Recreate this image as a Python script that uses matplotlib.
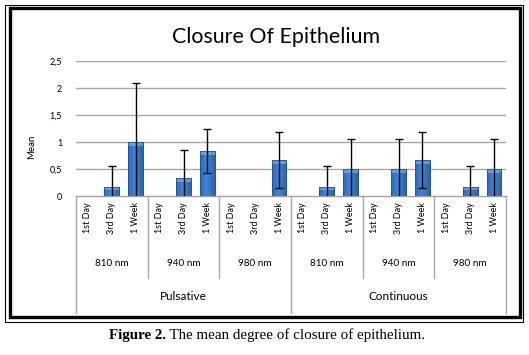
import numpy as np
import matplotlib
matplotlib.use("Agg")
import matplotlib.pyplot as plt
from matplotlib.patches import Rectangle
from matplotlib.lines import Line2D

# ---- data ----
title = "Closure Of Epithelium"
ylabel = "Mean"
days = ["1st Day", "3rd Day", "1 Week"]
wavelengths = ["810 nm", "940 nm", "980 nm"]
modes = ["Pulsative", "Continuous"]
pulsative_means = [0, 0.17, 1.0, 0, 0.33, 0.83, 0, 0, 0.67]
pulsative_err = [0, 0.39, 1.1, 0, 0.52, 0.41, 0, 0, 0.52]
continuous_means = [0, 0.17, 0.5, 0, 0.5, 0.67, 0, 0.17, 0.5]
continuous_err = [0, 0.39, 0.55, 0, 0.55, 0.52, 0, 0.39, 0.55]
yticks = [0, 0.5, 1, 1.5, 2, 2.5]
yticklabels = ["0", "0,5", "1", "1,5", "2", "2,5"]
caption_bold = "Figure 2."
caption_rest = " The mean degree of closure of epithelium."

W, H = 529, 355
fig = plt.figure(figsize=(W / 100, H / 100), dpi=100)
FONT = "Lato"

def fx(px):
    return px / W

def fy(py):
    return 1 - py / H

# axes placement (pixel coords)
x0, x1 = 76, 506
y0, y1 = 196, 61
ax = fig.add_axes([fx(x0), fy(y0), fx(x1) - fx(x0), fy(y1) - fy(y0)])

means = np.array(pulsative_means + continuous_means)
errs = np.array(pulsative_err + continuous_err)
n = len(means)
xs = np.arange(n)

ax.set_xlim(-0.5, n - 0.5)
ax.set_ylim(0, 2.5)
for yv in yticks[1:]:
    ax.axhline(yv, color="#a8a8a8", lw=1.0, zorder=0)

bw = 0.62
bars = ax.bar(xs, means, width=bw, color="#3c7ac6", edgecolor="#24548f",
              linewidth=0.6, zorder=2)
# glossy gradient overlay
grad = np.linspace(0, 1, 64)
shade = 1 - 0.55 * np.abs(grad - 0.45) * 2
img = np.zeros((2, 64, 4))
for i in range(64):
    c = np.array([0.22, 0.47, 0.78]) * (0.65 + 0.45 * shade[i])
    img[:, i, :3] = np.clip(c, 0, 1)
    img[:, i, 3] = 1
for b, m in zip(bars, means):
    if m <= 0:
        continue
    x, w = b.get_x(), b.get_width()
    im = ax.imshow(img, extent=[x, x + w, 0, m], aspect="auto", zorder=2.5,
                   interpolation="bilinear")
    im.set_clip_path(b)
    cap = min(0.07, m * 0.4)
    ax.add_patch(Rectangle((x, m - cap), w, cap, facecolor="#8fbcec",
                           edgecolor="none", alpha=0.55, zorder=2.6))
    ax.add_patch(Rectangle((x, 0), w, m, facecolor="none",
                           edgecolor="#24548f", lw=0.6, zorder=2.7))

mask = errs > 0
ax.errorbar(xs[mask], means[mask], yerr=errs[mask], fmt="none", ecolor="black",
            elinewidth=1.0, capsize=3, capthick=1.0, zorder=3)

ax.set_yticks(yticks)
ax.set_yticklabels(yticklabels, fontsize=6.5, family=FONT)
ax.tick_params(axis="y", length=0, pad=10)
ax.set_xticks([])
for s in ["top", "right", "left"]:
    ax.spines[s].set_visible(False)
ax.spines["bottom"].set_color("#a0a0a0")
ax.spines["bottom"].set_linewidth(1.0)
ax.patch.set_alpha(0)

# category table lines
lc = "#a8a8a8"
gw = (x1 - x0) / 6
def vline(xp, ya, yb):
    fig.add_artist(Line2D([fx(xp), fx(xp)], [fy(ya), fy(yb)], color=lc, lw=1.0))
vline(x0, y0, 313)
vline(x1, y0, 313)
vline(x0 + 3 * gw, y0, 313)
for k in [1, 2, 4, 5]:
    vline(x0 + k * gw, y0, 278)

cw = (x1 - x0) / n
for i in range(n):
    fig.text(fx(x0 + (i + 0.5) * cw), fy(218), days[i % 3], rotation=90,
             ha="center", va="center", fontsize=6.5, family=FONT)
for g in range(6):
    fig.text(fx(x0 + (g + 0.5) * gw), fy(263), wavelengths[g % 3],
             ha="center", va="center", fontsize=7.2, family=FONT)
for mi, mname in enumerate(modes):
    fig.text(fx(x0 + (mi * 3 + 1.5) * gw), fy(297), mname,
             ha="center", va="center", fontsize=8.5, family=FONT)

fig.text(fx(276), fy(37), title, ha="center", va="center", fontsize=15.4, family=FONT)
fig.text(fx(32), fy(147), ylabel, rotation=90, ha="center", va="center",
         fontsize=7, family=FONT)

# frame
fig.add_artist(Rectangle((fx(5), fy(322)), fx(523) - fx(5), fy(5) - fy(322),
                         fill=False, edgecolor="black", lw=0.8))
fig.add_artist(Rectangle((fx(9.5), fy(317)), fx(519.5) - fx(9.5), fy(8) - fy(317),
                         fill=False, edgecolor="black", lw=2.4))

# caption
renderer = fig.canvas.get_renderer()
t1 = fig.text(0, fy(335), caption_bold, ha="left", va="center", fontsize=10.8,
              family="Liberation Serif", weight="bold")
t2 = fig.text(0, fy(335), caption_rest, ha="left", va="center", fontsize=10.8,
              family="Liberation Serif")
w1 = t1.get_window_extent(renderer).width
w2 = t2.get_window_extent(renderer).width
start = 267 - (w1 + w2) / 2
t1.set_x(fx(start))
t2.set_x(fx(start + w1))

fig.savefig("out.png", dpi=100)
